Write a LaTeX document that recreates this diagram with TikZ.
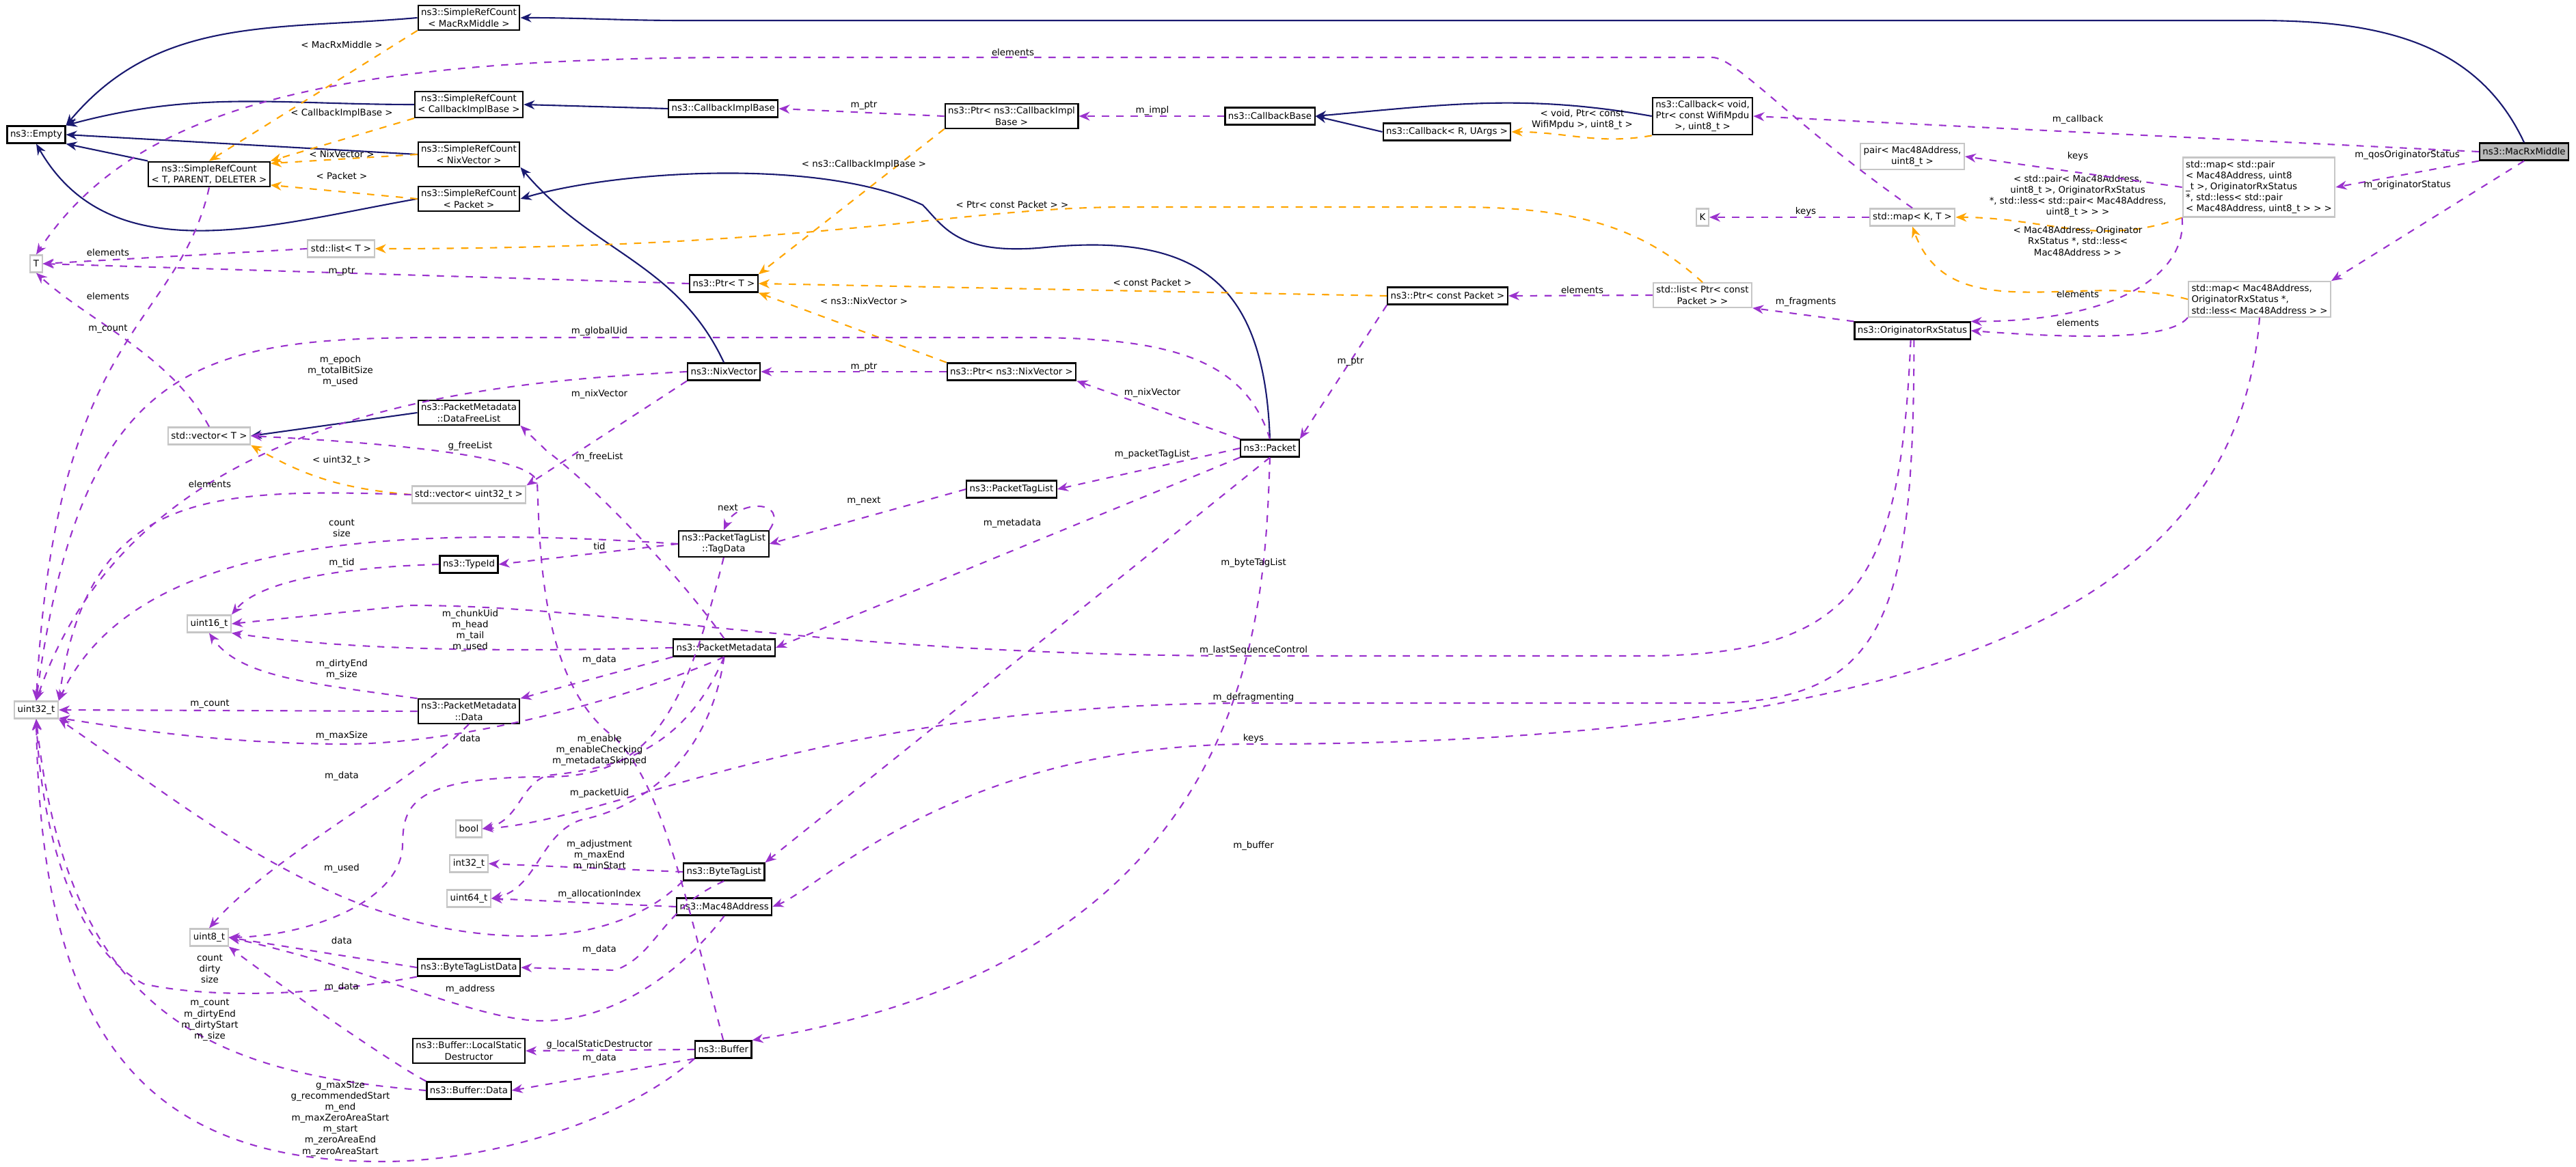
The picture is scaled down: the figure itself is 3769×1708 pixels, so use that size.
\documentclass[tikz,border=0pt]{standalone}
\usepackage{fontspec}
\setmainfont{DejaVu Sans}
\usetikzlibrary{arrows.meta,positioning}
\definecolor{inhcol}{HTML}{191970}
\definecolor{usecol}{HTML}{9A32CD}
\definecolor{tplcol}{HTML}{FFA500}
\tikzset{
  box/.style={draw=black, fill=white, semithick, inner sep=0.45mm, align=center, minimum height=2.5mm, font=\fontsize{3.8}{4.6}\selectfont},
  gbox/.style={box, draw=gray!45},
  curbox/.style={box, fill=gray!55},
  lbl/.style={inner sep=0.2mm, align=center, font=\fontsize{3.8}{4.6}\selectfont},
  inh/.style={inhcol, semithick, -{Stealth[length=1.6mm,width=1.3mm]}},
  tpl/.style={tplcol, semithick, dashed, -{Stealth[length=1.6mm,width=1.3mm]}},
  use/.style={usecol, semithick, dashed, -{Stealth[length=1.6mm,width=1.3mm]}},
}
\begin{document}
\begin{tikzpicture}[x=0.1mm,y=-0.1mm]
\useasboundingbox (0,0) rectangle (3769,1708);
% classes
\node[curbox] (mrm) at (3693,222) {ns3::MacRxMiddle};
\node[box] (srcm) at (686,26) {ns3::SimpleRefCount\\< MacRxMiddle >};
\node[box] (srccb) at (686,153) {ns3::SimpleRefCount\\< CallbackImplBase >};
\node[box] (empty) at (53,197) {ns3::Empty};
\node[box] (srcnv) at (686,226) {ns3::SimpleRefCount\\< NixVector >};
\node[box] (srct) at (306,255) {ns3::SimpleRefCount\\< T, PARENT, DELETER >};
\node[box] (srcp) at (686,291) {ns3::SimpleRefCount\\< Packet >};
\node[gbox] (listt) at (499,364) {std::list< T >};
\node[gbox] (tt) at (53,386) {T};
\node[box, anchor=west] (cbib) at (977,159) {ns3::CallbackImplBase};
\node[box] (ptrcb) at (1480,170) {ns3::Ptr< ns3::CallbackImpl\\Base >};
\node[box] (cbb) at (1858,170) {ns3::CallbackBase};
\node[box] (cbr) at (2117,193) {ns3::Callback< R, UArgs >};
\node[box] (cbv) at (2491,170) {ns3::Callback< void,\\ Ptr< const WifiMpdu\\ >, uint8\_t >};
\node[box, anchor=west] (ptrt) at (1008,415) {ns3::Ptr< T >};
\node[box] (ptrcp) at (2118,433) {ns3::Ptr< const Packet >};
\node[gbox] (listp) at (2491,432) {std::list< Ptr< const\\ Packet > >};
\node[box, anchor=west] (nixv) at (1005,544) {ns3::NixVector};
\node[box] (ptrnv) at (1480,544) {ns3::Ptr< ns3::NixVector >};
\node[box] (packet) at (1858,656) {ns3::Packet};
\node[box] (freel) at (686,604) {ns3::PacketMetadata\\::DataFreeList};
\node[gbox] (vect) at (306,638) {std::vector< T >};
\node[gbox] (vecu) at (686,724) {std::vector< uint32\_t >};
\node[box] (ptl) at (1480,716) {ns3::PacketTagList};
\node[box, anchor=west] (tagd) at (992,796) {ns3::PacketTagList\\::TagData};
\node[box] (typeid) at (686,826) {ns3::TypeId};
\node[gbox] (u16) at (306,913) {uint16\_t};
\node[box, anchor=west] (pmd) at (984,948) {ns3::PacketMetadata};
\node[gbox] (u32) at (53,1039) {uint32\_t};
\node[box] (pmdd) at (686,1041) {ns3::PacketMetadata\\::Data};
\node[gbox] (boolb) at (686,1213) {bool};
\node[gbox] (i32) at (686,1264) {int32\_t};
\node[box, anchor=west] (btl) at (999,1276) {ns3::ByteTagList};
\node[gbox] (u64) at (686,1315) {uint64\_t};
\node[box, anchor=west] (mac) at (989,1327) {ns3::Mac48Address};
\node[gbox] (u8) at (306,1372) {uint8\_t};
\node[box] (btld) at (686,1416) {ns3::ByteTagListData};
\node[box] (lsd) at (686,1538) {ns3::Buffer::LocalStatic\\Destructor};
\node[box, anchor=west] (buf) at (1016,1536) {ns3::Buffer};
\node[box] (bufd) at (686,1596) {ns3::Buffer::Data};
\node[gbox] (pair) at (2798,229) {pair< Mac48Address,\\ uint8\_t >};
\node[gbox, align=left] (mappair) at (3305,274) {std::map< std::pair\\< Mac48Address, uint8\\\_t >, OriginatorRxStatus\\ *, std::less< std::pair\\< Mac48Address, uint8\_t > > >};
\node[gbox] (kk) at (2491,318) {K};
\node[gbox] (mapkt) at (2798,318) {std::map< K, T >};
\node[box] (ors) at (2798,484) {ns3::OriginatorRxStatus};
\node[gbox, align=left] (mapmac) at (3306,438) {std::map< Mac48Address,\\ OriginatorRxStatus *,\\ std::less< Mac48Address > >};
% inheritance
\draw[inh] (srcm.west) to[out=185,in=50] (empty.north east);
\draw[inh] (srccb.west) to[out=180,in=15] (empty.north east);
\draw[inh] (srcnv.west) -- (empty.east);
\draw[inh] (srct.north west) -- (empty.south east);
\draw[inh] (srcp.west) to[out=190,in=-60] (empty.south);
\draw[inh] (mrm.north) to[out=115,in=0] (3300,30) -- (1000,30) to[out=180,in=0] (srcm.east);
\draw[inh] (cbib.west) -- (srccb.east);
\draw[inh] (nixv.north) to[out=115,in=-50] (srcnv.south east);
\draw[inh] (packet.north) .. controls (1850,420) and (1760,340) .. (1530,362) .. controls (1400,375) and (1380,330) .. (1350,300) .. controls (1200,230) and (900,250) .. (srcp.east);
\draw[inh] (cbv.west) to[out=170,in=5] (cbb.east);
\draw[inh] (cbr.west) -- (cbb.east);
\draw[inh] (freel.west) -- (vect.east);
% templates
\draw[tpl] (srcm.south west) -- (srct.north);
\draw[tpl] (srccb.south west) -- (srct.north east);
\draw[tpl] (srcnv.west) -- (srct.10);
\draw[tpl] (srcp.west) -- (srct.-10);
\draw[tpl] (listp.north) .. controls (2400,330) and (2300,303) .. (2130,303) -- (1650,303) .. controls (1400,303) and (1200,364) .. (listt.east);
\draw[tpl] (ptrcb.south west) -- (ptrt.north east);
\draw[tpl] (ptrcp.west) -- (ptrt.east);
\draw[tpl] (ptrnv.north west) -- (ptrt.south east);
\draw[tpl] (vecu.west) to[out=175,in=-30] (vect.south east);
\draw[tpl] (cbv.south west) to[out=190,in=0] (cbr.east);
\draw[tpl] (mappair.south west) to[out=200,in=0] (mapkt.east);
\draw[tpl] (mapmac.west) to[out=165,in=-70] (mapkt.south);
\node[lbl] at (500,66) {< MacRxMiddle >};
\node[lbl] at (500,166) {< CallbackImplBase >};
\node[lbl] at (500,226) {< NixVector >};
\node[lbl] at (500,258) {< Packet >};
\node[lbl] at (1481,300) {< Ptr< const Packet > >};
\node[lbl] at (1264,241) {< ns3::CallbackImplBase >};
\node[lbl] at (1686,414) {< const Packet >};
\node[lbl] at (1264,441) {< ns3::NixVector >};
\node[lbl] at (500,674) {< uint32\_t >};
\node[lbl] at (2315,175) {< void, Ptr< const\\ WifiMpdu >, uint8\_t >};
\node[lbl] at (3040,287) {< std::pair< Mac48Address,\\ uint8\_t >, OriginatorRxStatus\\ *, std::less< std::pair< Mac48Address,\\ uint8\_t > > >};
\node[lbl] at (3040,353) {< Mac48Address, Originator\\RxStatus *, std::less<\\ Mac48Address > >};
% members
\draw[use] (mapkt.north) .. controls (2620,180) and (2540,84) .. (2505,84) -- (1100,84) .. controls (500,84) and (200,150) .. (tt.north);
\draw[use] (listt.west) -- (tt.east);
\draw[use] (ptrt.west) -- (tt.east);
\draw[use] (vect.north) .. controls (250,520) and (130,470) .. (tt.south);
\draw[use] (srct.south) .. controls (260,480) and (80,480) .. (u32.north);
\draw[use] (packet.north) .. controls (1820,520) and (1700,494) .. (1500,494) -- (650,494) .. controls (300,494) and (120,520) .. (u32.north);
\draw[use] (nixv.west) .. controls (700,560) and (200,600) .. (u32.north);
\draw[use] (nixv.south west) -- (vecu.north east);
\draw[use] (vecu.west) .. controls (300,714) and (130,720) .. (u32.north east);
\draw[use] (tagd.west) .. controls (600,770) and (200,780) .. (u32.north east);
\draw[use] (tagd.west) -- (typeid.east);
\draw[use] (tagd.north east) .. controls +(30,-45) and +(20,-45) .. (tagd.north);
\draw[use] (typeid.west) .. controls (500,830) and (380,850) .. (u16.north east);
\draw[use] (ors.-100) .. controls (2780,850) and (2720,960) .. (2400,960) -- (1834,960) .. controls (1200,960) and (900,886) .. (600,886) -- (u16.east);
\draw[use] (pmd.west) .. controls (700,955) and (500,950) .. (u16.south east);
\draw[use] (pmdd.north west) .. controls (450,1000) and (350,990) .. (u16.south);
\draw[use] (pmd.south west) -- (pmdd.north east);
\draw[use] (pmdd.west) -- (u32.east);
\draw[use] (pmd.south) .. controls (950,1010) and (700,1089) .. (500,1089) .. controls (300,1088) and (150,1060) .. (u32.-20);
\draw[use] (tagd.south) .. controls (1000,1050) and (950,1137) .. (800,1137) .. controls (600,1137) and (590,1180) .. (589,1236) .. controls (588,1320) and (450,1370) .. (u8.east);
\draw[use] (pmdd.south) .. controls (600,1150) and (400,1250) .. (u8.north);
\draw[use] (pmd.south) .. controls (1000,1100) and (900,1125) .. (800,1135) .. controls (760,1150) and (760,1200) .. (boolb.east);
\draw[use] (ors.-80) .. controls (2800,900) and (2760,1029) .. (2500,1029) -- (1834,1029) .. controls (1200,1029) and (900,1200) .. (boolb.east);
\draw[use] (pmd.south) .. controls (1040,1100) and (950,1180) .. (850,1200) .. controls (790,1220) and (786,1300) .. (u64.east);
\draw[use] (btl.west) -- (i32.east);
\draw[use] (btl.south west) .. controls (940,1349) and (850,1370) .. (772,1370) .. controls (500,1370) and (300,1200) .. (u32.south east);
\draw[use] (mac.west) -- (u64.east);
\draw[use] (btl.south) .. controls (968,1330) and (961,1398) .. (900,1420) -- (btld.east);
\draw[use] (btld.west) -- (u8.east);
\draw[use] (btld.south west) .. controls (450,1460) and (300,1460) .. (210,1440) .. controls (100,1380) and (60,1200) .. (u32.south);
\draw[use] (mac.south) .. controls (1000,1420) and (900,1494) .. (793,1494) .. controls (700,1494) and (550,1420) .. (u8.east);
\draw[use] (bufd.north west) .. controls (580,1560) and (420,1450) .. (u8.south east);
\draw[use] (bufd.west) .. controls (300,1570) and (100,1480) .. (u32.south);
\draw[use] (buf.west) -- (lsd.east);
\draw[use] (buf.south west) -- (bufd.east);
\draw[use] (buf.south west) .. controls (900,1650) and (700,1700) .. (560,1700) .. controls (200,1700) and (60,1500) .. (u32.south);
\draw[use] (buf.north) .. controls (1000,1300) and (968,1150) .. (900,1080) .. controls (790,1000) and (790,800) .. (786,706) .. controls (780,670) and (600,650) .. (vect.east);
\draw[use] (pmd.north) .. controls (1000,850) and (880,720) .. (800,660) -- (freel.south east);
\draw[use] (packet.west) -- (ptl.east);
\draw[use] (ptl.west) -- (tagd.east);
\draw[use] (packet.south west) -- (pmd.east);
\draw[use] (packet.south) -- (btl.north east);
\draw[use] (packet.south) .. controls (1850,900) and (1840,1400) .. (buf.north east);
\draw[use] (packet.north west) -- (ptrnv.south east);
\draw[use] (ptrnv.west) -- (nixv.east);
\draw[use] (ptrcp.south west) -- (packet.north east);
\draw[use] (ptrcb.west) -- (cbib.east);
\draw[use] (cbb.west) -- (ptrcb.east);
\draw[use] (listp.west) -- (ptrcp.east);
\draw[use] (ors.north west) -- (listp.south east);
\draw[use] (mrm.west) -- (cbv.east);
\draw[use] (mrm.south west) -- (mappair.east);
\draw[use] (mrm.south) -- (mapmac.north east);
\draw[use] (mappair.west) -- (pair.east);
\draw[use] (mappair.south west) .. controls (3200,400) and (3100,470) .. (ors.north east);
\draw[use] (mapkt.west) -- (kk.east);
\draw[use] (mapmac.south west) .. controls (3180,490) and (3100,500) .. (ors.east);
\draw[use] (mapmac.south) .. controls (3280,800) and (3000,1089) .. (1834,1089) .. controls (1400,1089) and (1200,1300) .. (mac.east);
\node[lbl] at (1482,77) {elements};
\node[lbl] at (158,370) {elements};
\node[lbl] at (500,397) {m\_ptr};
\node[lbl] at (158,434) {elements};
\node[lbl] at (158,481) {m\_count};
\node[lbl] at (877,485) {m\_globalUid};
\node[lbl] at (498,543) {m\_epoch\\m\_totalBitSize\\m\_used};
\node[lbl] at (877,577) {m\_nixVector};
\node[lbl] at (688,653) {g\_freeList};
\node[lbl] at (877,669) {m\_freeList};
\node[lbl] at (307,709) {elements};
\node[lbl] at (1065,743) {next};
\node[lbl] at (500,773) {count\\size};
\node[lbl] at (877,800) {tid};
\node[lbl] at (500,824) {m\_tid};
\node[lbl] at (688,923) {m\_chunkUid\\m\_head\\m\_tail\\m\_used};
\node[lbl] at (877,966) {m\_data};
\node[lbl] at (500,980) {m\_dirtyEnd\\m\_size};
\node[lbl] at (307,1030) {m\_count};
\node[lbl] at (500,1077) {m\_maxSize};
\node[lbl] at (688,1081) {data};
\node[lbl] at (877,1098) {m\_enable\\m\_enableChecking\\m\_metadataSkipped};
\node[lbl] at (500,1136) {m\_data};
\node[lbl] at (877,1161) {m\_packetUid};
\node[lbl] at (877,1252) {m\_adjustment\\m\_maxEnd\\m\_minStart};
\node[lbl] at (500,1271) {m\_used};
\node[lbl] at (877,1309) {m\_allocationIndex};
\node[lbl] at (500,1377) {data};
\node[lbl] at (877,1390) {m\_data};
\node[lbl] at (307,1418) {count\\dirty\\size};
\node[lbl] at (500,1445) {m\_data};
\node[lbl] at (688,1448) {m\_address};
\node[lbl] at (307,1493) {m\_count\\m\_dirtyEnd\\m\_dirtyStart\\m\_size};
\node[lbl] at (877,1529) {g\_localStaticDestructor};
\node[lbl] at (877,1549) {m\_data};
\node[lbl] at (498,1637) {g\_maxSize\\g\_recommendedStart\\m\_end\\m\_maxZeroAreaStart\\m\_start\\m\_zeroAreaEnd\\m\_zeroAreaStart};
\node[lbl] at (1264,154) {m\_ptr};
\node[lbl] at (1686,162) {m\_impl};
\node[lbl] at (2315,425) {elements};
\node[lbl] at (1264,537) {m\_ptr};
\node[lbl] at (1976,529) {m\_ptr};
\node[lbl] at (1686,575) {m\_nixVector};
\node[lbl] at (1686,665) {m\_packetTagList};
\node[lbl] at (1264,733) {m\_next};
\node[lbl] at (1481,766) {m\_metadata};
\node[lbl] at (1834,824) {m\_byteTagList};
\node[lbl] at (1834,952) {m\_lastSequenceControl};
\node[lbl] at (1834,1021) {m\_defragmenting};
\node[lbl] at (1834,1081) {keys};
\node[lbl] at (1834,1238) {m\_buffer};
\node[lbl] at (3040,175) {m\_callback};
\node[lbl] at (3040,229) {keys};
\node[lbl] at (3522,227) {m\_qosOriginatorStatus};
\node[lbl] at (3522,271) {m\_originatorStatus};
\node[lbl] at (2642,310) {keys};
\node[lbl] at (2642,442) {m\_fragments};
\node[lbl] at (3040,431) {elements};
\node[lbl] at (3040,473) {elements};
\end{tikzpicture}
\end{document}
